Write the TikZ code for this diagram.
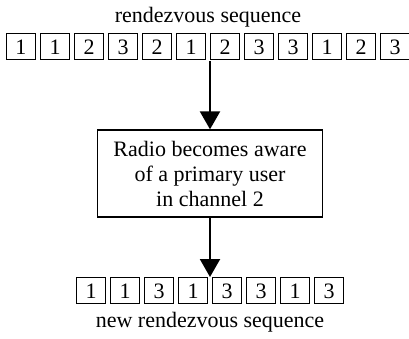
\documentclass[tikz,border=0pt]{standalone}
\usepackage{fontspec}
\setmainfont{Liberation Serif}
\usetikzlibrary{arrows.meta}
\tikzset{
  cell/.style={draw, line width=1pt, minimum width=29pt, minimum height=26pt, inner sep=0pt, text height=15pt, text depth=0pt},
  label/.style={inner sep=0pt, anchor=base},
  procbox/.style={draw, line width=1.3pt, minimum width=225pt, minimum height=87pt, align=center, inner sep=0pt},
  flow/.style={line width=2.2pt, -{Triangle[length=18pt,width=20pt]}}
}
\begin{document}
\begin{tikzpicture}[x=1pt,y=-1pt, font=\fontsize{22}{25}\selectfont]
\useasboundingbox (0,0) rectangle (409,339);
\node[label] (toptxt) at (208,23) {rendezvous sequence};
\foreach \d [count=\k] in {1,1,2,3,2,1,2,3,3,1,2,3}
  \node[cell] (t\k) at ({208+(\k-6.5)*34},47) {\d};
\coordinate (topout) at (210,61);
\node[procbox] (proc) at (210,173.5) {Radio becomes aware\\of a primary user\\in channel 2};
\foreach \d [count=\k] in {1,1,3,1,3,3,1,3}
  \node[cell] (b\k) at ({210+(\k-4.5)*34},290.5) {\d};
\coordinate (botin) at (210,277);
\node[label] (bottxt) at (210,327) {new rendezvous sequence};
\draw[flow] (topout) -- (proc.north);
\draw[flow] (proc.south) -- (botin);
\end{tikzpicture}
\end{document}
